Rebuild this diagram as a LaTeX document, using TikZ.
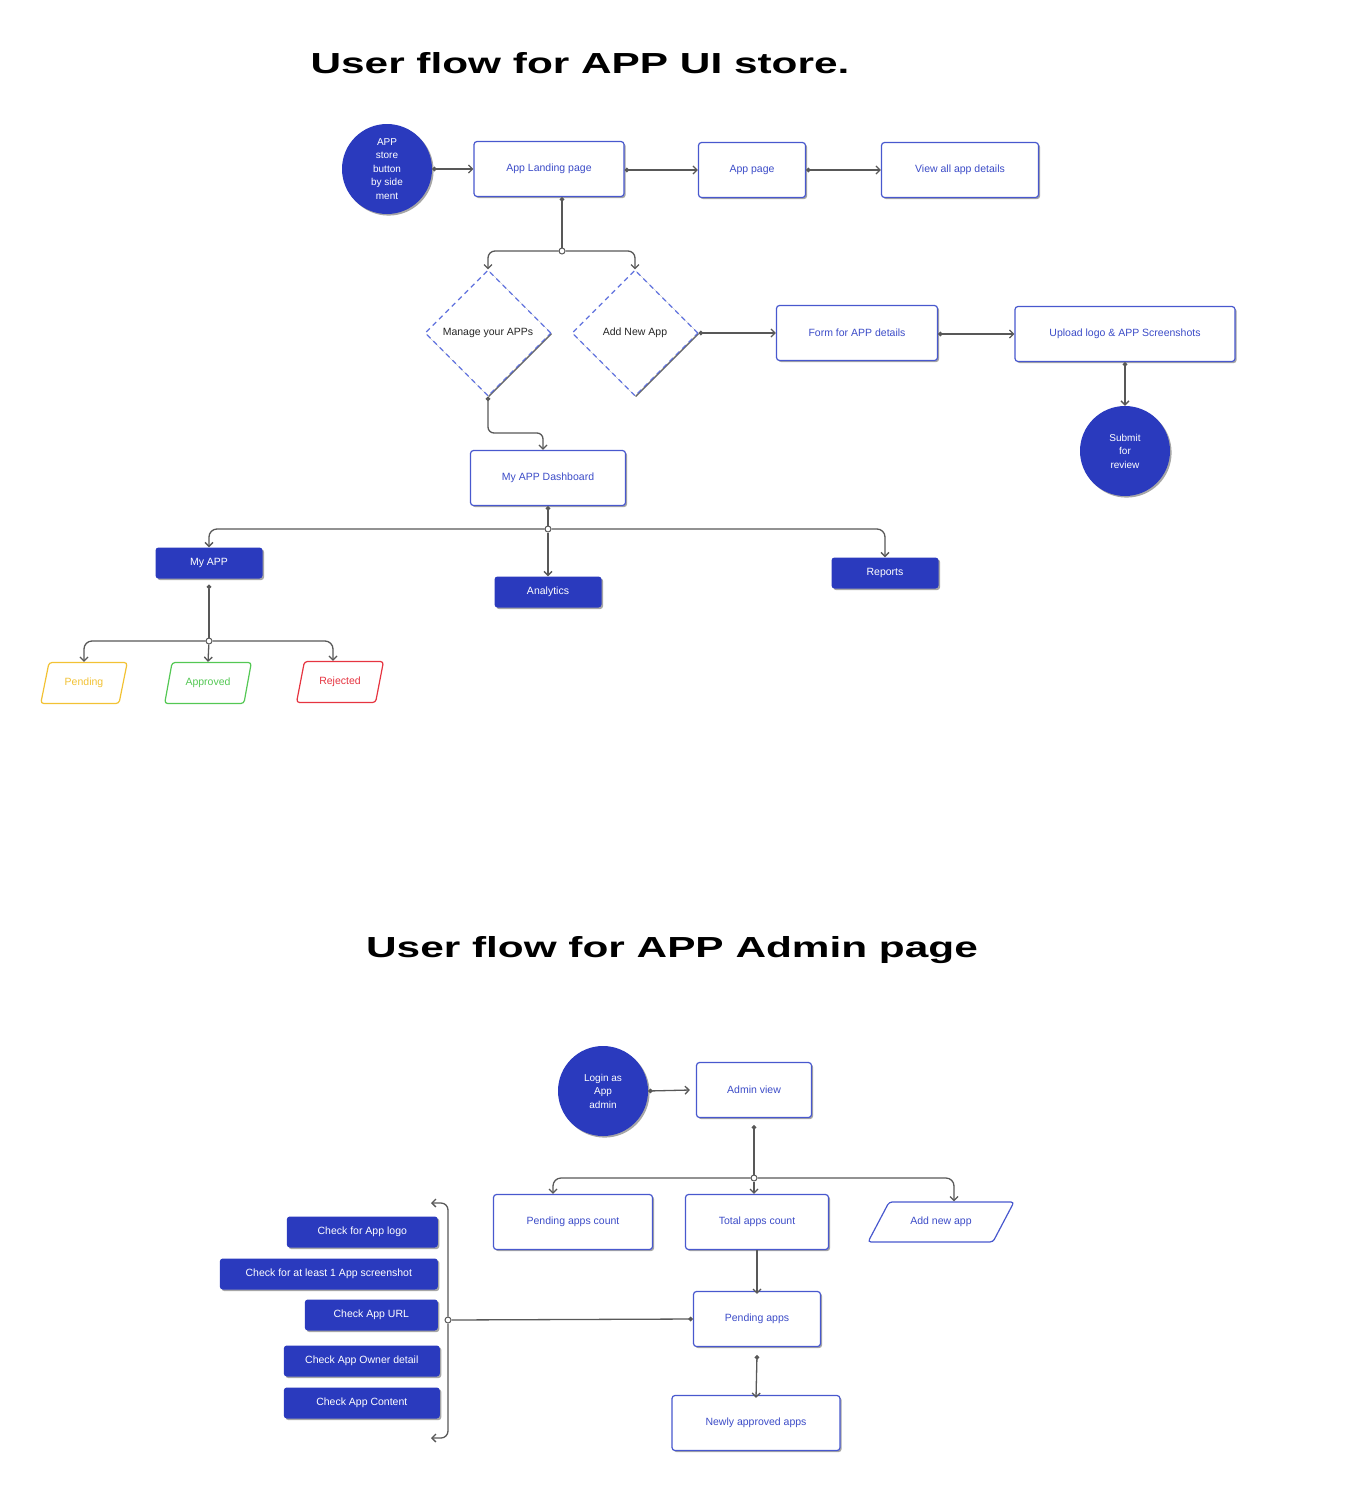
\documentclass[tikz,border=0pt]{standalone}
\usepackage{fontspec}
\setmainfont{Liberation Sans}
\usetikzlibrary{arrows.meta}
\usetikzlibrary{shapes.geometric}
\usetikzlibrary{shadows}

\definecolor{appblue}{RGB}{42,58,190}
\definecolor{boxline}{RGB}{72,88,206}
\definecolor{boxtext}{RGB}{60,76,200}
\definecolor{dashblue}{RGB}{96,114,222}
\definecolor{linkgray}{RGB}{88,88,88}
\definecolor{pendyellow}{RGB}{242,194,52}
\definecolor{okgreen}{RGB}{84,200,84}
\definecolor{nored}{RGB}{230,52,64}

\tikzset{
  heading/.style={anchor=base, font=\fontsize{29}{30}\selectfont\bfseries},
  softshadow/.style={drop shadow={shadow xshift=1.6pt, shadow yshift=-1.6pt, fill=black, opacity=0.35}},
  flowbox/.style={draw=boxline, line width=1.2pt, fill=white, rounded corners=3pt, text=boxtext,
    minimum height=55pt, font=\fontsize{10.5}{12}\selectfont, softshadow},
  bluebox/.style={fill=appblue, rounded corners=3pt, text=white, minimum height=31pt,
    font=\fontsize{10.5}{12}\selectfont, softshadow},
  endpoint/.style={circle, fill=appblue, text=white, minimum size=90pt, inner sep=0pt, align=center,
    font=\fontsize{10}{13.5}\selectfont, softshadow},
  choice/.style={diamond, draw=dashblue, dashed, dash pattern=on 5pt off 4pt, line width=1.1pt, fill=white,
    minimum size=126pt, inner sep=0pt, font=\fontsize{10.5}{12}\selectfont, text=black!85,
    drop shadow={shadow xshift=1.2pt, shadow yshift=-1.2pt, fill=linkgray, opacity=0.9}},
  status/.style={trapezium, trapezium left angle=72, trapezium right angle=108, trapezium stretches=true,
    draw=#1, text=#1, line width=1.2pt, rounded corners=3pt, fill=white,
    minimum width=87pt, minimum height=41pt, font=\fontsize{10.5}{12}\selectfont},
  link/.style={draw=linkgray, line width=1.3pt, -{Straight Barb[length=4pt,width=8pt]}},
  dotlink/.style={link, arrows={Circle[length=4.5pt]-Straight Barb[length=4pt,width=8pt]}},
  plainline/.style={draw=linkgray, line width=1.3pt, arrows={Circle[length=4.5pt]-}},
  junc/.style={circle, draw=linkgray, fill=white, line width=1pt, inner sep=0pt, minimum size=6pt},
}

\begin{document}
\begin{tikzpicture}[x=1pt, y=-1pt]
  \useasboundingbox (0,0) rectangle (1360,1502);

  % Titles
  \node[heading] (title1) at (580,73) {\scalebox{1.46}[1]{User flow for APP UI store.}};
  \node[heading] (title2) at (672,957) {\scalebox{1.46}[1]{User flow for APP Admin page}};

  % Store flow
  \node[endpoint] (appbtn) at (387,169) {APP\\store\\button\\by side\\ment};
  \node[flowbox, minimum width=150pt] (landing) at (549,169) {App Landing page};
  \node[flowbox, minimum width=107pt] (apppage) at (752,170) {App page};
  \node[flowbox, minimum width=157pt] (details) at (960,170) {View all app details};

  \node[choice] (manage) at (488,333) {Manage your APPs};
  \node[choice] (addnew) at (635,333) {Add New App};
  \node[flowbox, minimum width=161pt] (form) at (857,333) {Form for APP details};
  \node[flowbox, minimum width=220pt] (upload) at (1125,334) {Upload logo \& APP Screenshots};
  \node[endpoint] (submit) at (1125,451) {Submit\\for\\review};

  \node[flowbox, minimum width=155pt] (dash) at (548,478) {My APP Dashboard};
  \node[bluebox, minimum width=107pt] (myapp) at (209,563) {My APP};
  \node[bluebox, minimum width=107pt] (analytics) at (548,592) {Analytics};
  \node[bluebox, minimum width=107pt] (reports) at (885,573) {Reports};

  \node[status=pendyellow] (pending) at (84,683) {Pending};
  \node[status=okgreen] (approved) at (208,683) {Approved};
  \node[status=nored] (rejected) at (340,682) {Rejected};

  \node[junc] (j1) at (562,251) {};
  \node[junc] (j2) at (548,529) {};
  \node[junc] (j3) at (209,641) {};
  \coordinate (bendA) at (543,433);

  \draw[dotlink] (appbtn.east) -- (landing.west);
  \draw[dotlink] (landing.east |- apppage.west) -- (apppage.west);
  \draw[dotlink] (apppage.east) -- (details.west);
  \draw[plainline] (landing.south -| j1) -- (j1);
  \draw[link, rounded corners=7pt] (j1) -| (manage.north);
  \draw[link, rounded corners=7pt] (j1) -| (addnew.north);
  \draw[dotlink] (addnew.east) -- (form.west);
  \draw[dotlink] (form.east |- upload.west) -- (upload.west);
  \draw[dotlink] (upload.south) -- (submit.north);
  \draw[dotlink, rounded corners=6pt] (manage.south) |- (bendA) -- (bendA |- dash.north);
  \draw[plainline] (dash.south) -- (j2);
  \draw[link, rounded corners=8pt] (j2) -| (myapp.north);
  \draw[link] (j2) -- (analytics.north);
  \draw[link, rounded corners=8pt] (j2) -| (reports.north);
  \draw[plainline] ([yshift=-6pt]myapp.south) -- (j3);
  \draw[link, rounded corners=8pt] (j3) -| (pending.north);
  \draw[link] (j3) -- (approved.north);
  \draw[link, rounded corners=8pt] (j3) -| ([xshift=-7pt]rejected.north);

  % Admin flow
  \node[endpoint] (login) at (603,1091) {Login as\\App\\admin};
  \node[flowbox, minimum width=115pt] (admin) at (754,1090) {Admin view};
  \node[flowbox, minimum width=159pt] (pcount) at (573,1222) {Pending apps count};
  \node[flowbox, minimum width=143pt] (total) at (757,1222) {Total apps count};
  \node[status=boxline, minimum width=147pt, minimum height=40pt, text=boxtext,
    trapezium left angle=50, trapezium right angle=130] (addapp) at (941,1222) {Add new app};
  \node[flowbox, minimum width=127pt] (papps) at (757,1319) {Pending apps};
  \node[flowbox, minimum width=168pt] (newly) at (756,1423) {Newly approved apps};

  \node[bluebox, anchor=east, minimum width=151pt] (chk1) at (438,1232) {Check for App logo};
  \node[bluebox, anchor=east, minimum width=218pt] (chk2) at (438,1274) {Check for at least 1 App screenshot};
  \node[bluebox, anchor=east, minimum width=133pt] (chk3) at (438,1315) {Check App URL};
  \node[bluebox, anchor=east, minimum width=156pt] (chk4) at (440,1361) {Check App Owner detail};
  \node[bluebox, anchor=east, minimum width=156pt] (chk5) at (440,1403) {Check App Content};

  \node[junc] (j4) at (754,1178) {};
  \node[junc] (j5) at (448,1320) {};
  \coordinate (btop) at (431,1203);
  \coordinate (bbot) at (431,1438);

  \draw[dotlink] (login.east) -- ([xshift=-6pt]admin.west);
  \draw[plainline] ([yshift=-7pt]admin.south) -- (j4);
  \draw[link, rounded corners=8pt] (j4) -| ([xshift=-20pt]pcount.north);
  \draw[link] (j4) -- (j4 |- total.north);
  \draw[link, rounded corners=8pt] (j4) -| ([xshift=13pt]addapp.north);
  \draw[link] (total.south) -- ([yshift=-3pt]papps.north);
  \draw[dotlink] ([yshift=-8pt]papps.south) -- ([yshift=-3pt]newly.north);
  \draw[draw=linkgray, line width=1.3pt, -{Circle[length=4.5pt]}] (j5) -- (papps.west);
  \draw[link, rounded corners=7pt] (j5) |- (btop);
  \draw[link, rounded corners=7pt] (j5) |- (bbot);
\end{tikzpicture}
\end{document}
